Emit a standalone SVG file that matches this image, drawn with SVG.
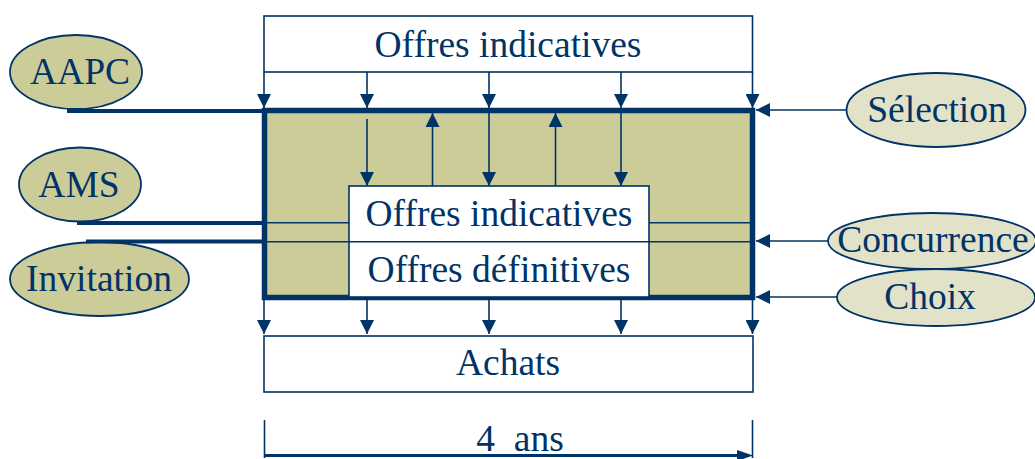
<svg xmlns="http://www.w3.org/2000/svg" width="1035" height="459" viewBox="0 0 1035 459">
<defs>
<style>
.t{font-family:'Liberation Serif',Tinos,'Times New Roman',Times,serif;font-size:37.5px;fill:#003366;text-anchor:middle}
.ln{stroke:#003366;stroke-width:1.6;fill:none}
.thk{stroke:#003366;stroke-width:4;fill:none}
.box{fill:#ffffff;stroke:#003366;stroke-width:1.6}
.e1{fill:#CCCC99;stroke:#003366;stroke-width:1.8}
.e2{fill:#E2E2C8;stroke:#003366;stroke-width:1.8}
</style>
<marker id="ah" viewBox="0 0 14 14" refX="14" refY="7" markerWidth="14" markerHeight="14" markerUnits="userSpaceOnUse" orient="auto">
<path d="M0,0 L14,7 L0,14 Z" fill="#003366"/>
</marker>
</defs>
<rect width="1035" height="459" fill="#ffffff"/>

<g id="big-box">
<rect x="264.5" y="110.5" width="488" height="187" fill="#CCCC99" stroke="#003366" stroke-width="5.5"/>
</g>

<g id="top-box">
<rect class="box" x="264" y="16" width="488.5" height="56"/>
<text class="t" x="508" y="57">Offres indicatives</text>
</g>

<g id="inner-box">
<rect class="box" x="349" y="186" width="300" height="111"/>
<text class="t" x="499" y="226">Offres indicatives</text>
<text class="t" x="499" y="282">Offres définitives</text>
</g>

<g id="achats-box">
<rect class="box" x="264" y="336" width="489" height="56"/>
<text class="t" x="508" y="375">Achats</text>
</g>

<g id="aapc">
<ellipse class="e1" cx="76" cy="72" rx="66" ry="37"/>
<text class="t" x="80" y="84">AAPC</text>
</g>
<g id="ams">
<ellipse class="e1" cx="80" cy="184.5" rx="61" ry="37"/>
<text class="t" x="79" y="197">AMS</text>
</g>
<g id="invitation">
<ellipse class="e1" cx="99.5" cy="279" rx="89.5" ry="37"/>
<text class="t" x="99" y="291">Invitation</text>
</g>
<g id="selection">
<ellipse class="e2" cx="936" cy="110" rx="89.5" ry="37"/>
<text class="t" x="937" y="122">Sélection</text>
</g>
<g id="concurrence">
<ellipse class="e2" cx="932" cy="241" rx="104" ry="28"/>
<text class="t" x="933" y="252">Concurrence</text>
</g>
<g id="choix">
<ellipse class="e2" cx="936" cy="297.5" rx="99" ry="28.5"/>
<text class="t" x="930" y="309">Choix</text>
</g>

<g id="connectors">
<path class="thk" d="M67,111 H264"/>
<path class="thk" d="M77,223 H264"/>
<path class="thk" d="M86,241.5 H264"/>
<path class="ln" d="M264,222.7 H349"/>
<path class="ln" d="M649,222.7 H752"/>
<path class="ln" d="M264,241.7 H752"/>
<path class="ln" d="M264,72 V108" marker-end="url(#ah)"/>
<path class="ln" d="M367,72 V108" marker-end="url(#ah)"/>
<path class="ln" d="M489,72 V108" marker-end="url(#ah)"/>
<path class="ln" d="M621,72 V108" marker-end="url(#ah)"/>
<path class="ln" d="M752.5,72 V108" marker-end="url(#ah)"/>
<path class="ln" d="M367,119 V186" marker-end="url(#ah)"/>
<path class="ln" d="M489,110 V186" marker-end="url(#ah)"/>
<path class="ln" d="M621,110 V186" marker-end="url(#ah)"/>
<path class="ln" d="M432.5,186 V113" marker-end="url(#ah)"/>
<path class="ln" d="M555.5,186 V113" marker-end="url(#ah)"/>
<path class="ln" d="M264,298 V334" marker-end="url(#ah)"/>
<path class="ln" d="M367,298 V334" marker-end="url(#ah)"/>
<path class="ln" d="M489,298 V334" marker-end="url(#ah)"/>
<path class="ln" d="M621,298 V334" marker-end="url(#ah)"/>
<path class="ln" d="M752.5,298 V334" marker-end="url(#ah)"/>
<path class="ln" d="M846.5,110 H756" marker-end="url(#ah)"/>
<path class="ln" d="M828,241 H756" marker-end="url(#ah)"/>
<path class="ln" d="M837,297 H756" marker-end="url(#ah)"/>
</g>

<g id="duration">
<path class="ln" d="M264.5,420 V458"/>
<path class="ln" d="M752.5,420 V458"/>
<path d="M264.5,455.5 H740" stroke="#003366" stroke-width="3" fill="none"/>
<path d="M737,450 L753,455.5 L737,461 Z" fill="#003366"/>
<text class="t" x="520" y="451" xml:space="preserve">4  ans</text>
</g>
</svg>
